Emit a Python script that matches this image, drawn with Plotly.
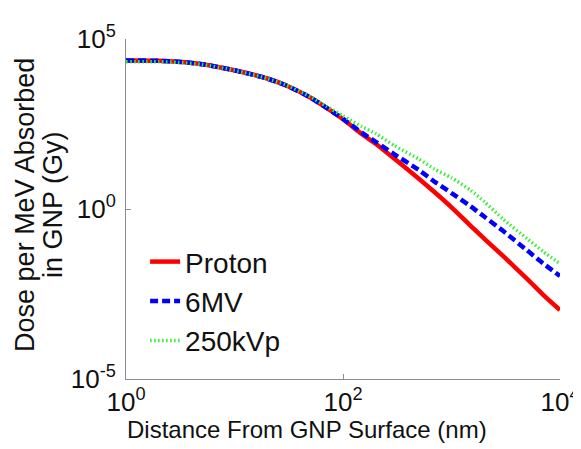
import plotly.graph_objects as go

# Distance from GNP surface (nm)
distance_nm = [1, 2, 3, 5, 10, 20, 30, 50, 70, 100, 150, 200, 300, 500, 700,
               1000, 1500, 2000, 3000, 5000, 7000, 10000]

# Dose per MeV absorbed in GNP (Gy)
dose_proton = [2.34e4, 2.29e4, 2.14e4, 1.82e4, 1.2e4, 6.9e3, 4.3e3, 1.9e3, 955, 437,
               158, 83, 29.5, 7.8, 3.1, 1.12, 0.32, 0.135, 0.041, 0.0087, 0.0030, 0.00107]
dose_6mv = [2.34e4, 2.29e4, 2.14e4, 1.82e4, 1.2e4, 6.9e3, 4.3e3, 1.9e3, 955, 447,
            174, 95, 40, 14, 6.3, 2.95, 1.2, 0.60, 0.224, 0.060, 0.025, 0.0107]
dose_250kvp = [2.15e4, 2.15e4, 2.05e4, 1.78e4, 1.2e4, 6.9e3, 4.4e3, 2.0e3, 1050, 550,
               263, 166, 72, 29.5, 14.8, 8.3, 3.55, 1.66, 0.50, 0.132, 0.056, 0.0245]

series_names = ["Proton", "6MV", "250kVp"]

x_tickvals = [1, 100, 10000]
x_ticktext = ["10<sup>0</sup>", "10<sup>2</sup>", "10<sup>4</sup>"]
y_tickvals = [1e-5, 1, 1e5]
y_ticktext = ["10<sup>-5</sup>", "10<sup>0</sup>", "10<sup>5</sup>"]

x_title = "Distance From GNP Surface (nm)"
y_title_lines = ["Dose per MeV Absorbed", "in GNP (Gy)"]

FONT = "Liberation Sans, Arial, sans-serif"

fig = go.Figure()
fig.add_trace(go.Scatter(x=distance_nm, y=dose_proton, name=series_names[0], mode="lines",
                         line=dict(color="#ff0000", width=4.5, shape="spline", smoothing=0.6)))
fig.add_trace(go.Scatter(x=distance_nm, y=dose_6mv, name=series_names[1], mode="lines",
                         line=dict(color="#0000ff", width=4.5, dash="8px,4px",
                                   shape="spline", smoothing=0.6)))
fig.add_trace(go.Scatter(x=distance_nm, y=dose_250kvp, name=series_names[2], mode="lines",
                         line=dict(color="#33ee33", width=3.5, dash="1.5px,2.5px",
                                   shape="spline", smoothing=0.6)))

axis_common = dict(
    type="log", showline=True, linecolor="#8c8c8c", linewidth=1, automargin=False,
    ticks="inside", ticklen=5, tickcolor="#8c8c8c", showgrid=False, zeroline=False,
    mirror=False, tickfont=dict(family=FONT, size=26, color="#111"),
)

fig.update_xaxes(range=[0, 4], tickvals=x_tickvals, ticktext=x_ticktext, **axis_common)
fig.update_yaxes(range=[-5, 5], tickvals=y_tickvals, ticktext=y_ticktext,
                 ticklabelstandoff=4, **axis_common)

fig.add_annotation(text=x_title, xref="paper", yref="paper", x=0.417, y=-0.15,
                   xanchor="center", yanchor="middle", showarrow=False,
                   font=dict(family=FONT, size=24, color="#111"))
fig.add_annotation(text=y_title_lines[0], xref="paper", yref="paper", x=-0.2327, y=0.512,
                   xanchor="center", yanchor="middle", showarrow=False, textangle=-90,
                   font=dict(family=FONT, size=27, color="#111"))
fig.add_annotation(text=y_title_lines[1], xref="paper", yref="paper", x=-0.168, y=0.512,
                   xanchor="center", yanchor="middle", showarrow=False, textangle=-90,
                   font=dict(family=FONT, size=27, color="#111"))

fig.update_layout(
    width=573, height=441,
    margin=dict(l=118, r=21, t=31, b=70),
    paper_bgcolor="white", plot_bgcolor="white",
    showlegend=True,
    legend=dict(x=0.044, y=0.418, xanchor="left", yanchor="top",
                bgcolor="rgba(0,0,0,0)", borderwidth=0,
                font=dict(family=FONT, size=28, color="#111"),
                itemwidth=30, tracegroupgap=0),
)

fig.write_html("out.html")
